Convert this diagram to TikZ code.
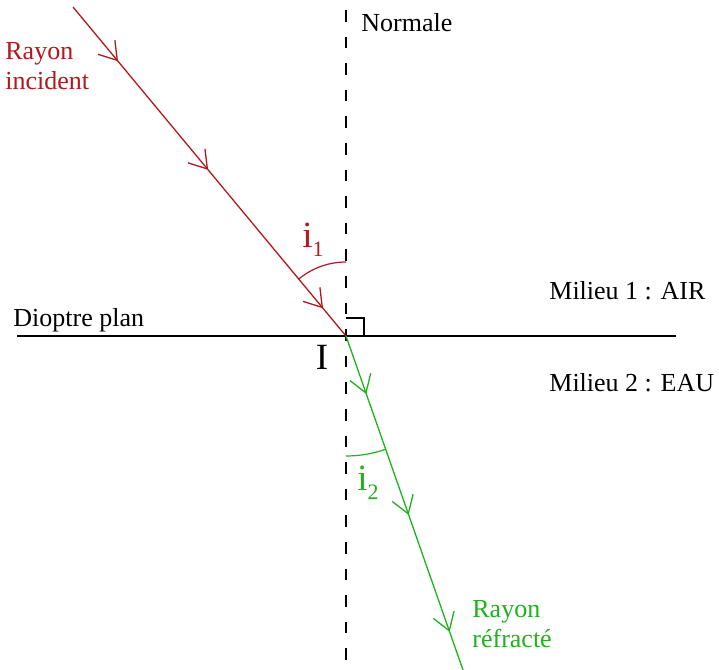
\documentclass[tikz,border=0pt]{standalone}
\usepackage{amsmath}
\usepackage{fontspec}
\setmainfont{Liberation Serif}
\usetikzlibrary{arrows.meta,decorations.markings}

\definecolor{rougeincident}{RGB}{178,24,28}
\definecolor{vertrefracte}{RGB}{30,178,30}
\newcommand{\indice}[1]{i\raisebox{-4.5pt}{\fontsize{11}{13}\selectfont #1}}

\tikzset{
  barbe/.tip={Straight Barb[length=8.5pt,width=11pt]},
  rayon/.style={line width=0.65pt},
  fleches/.style n args={3}{decoration={markings,
      mark=at position #1 with {\arrow{barbe}},
      mark=at position #2 with {\arrow{barbe}},
      mark=at position #3 with {\arrow{barbe}}},
    postaction={decorate}},
  texte/.style={font=\fontsize{13}{15}\selectfont, inner sep=0pt},
  grand/.style={font=\fontsize{18.5}{22}\selectfont, inner sep=0pt},
}

\begin{document}
\begin{tikzpicture}[x=0.5pt,y=0.5pt]
    \useasboundingbox (0,0) rectangle (719,670);
    % Points
    \coordinate (I) at (346,334);
    \coordinate (source) at (73,663);
    \coordinate (fin) at (463,0);
    \coordinate (normhaut) at (346,660);
    \coordinate (normbas) at (346,0);
    \coordinate (dioptreg) at (17,334);
    \coordinate (dioptred) at (676,334);

    % Normale et dioptre
    \draw[line width=0.9pt, dash pattern=on 5.8pt off 7.5pt] (normhaut) -- (normbas);
    \draw[line width=0.8pt] (dioptreg) -- (dioptred);
    \draw[line width=0.8pt] ([yshift=9pt]I) -| ([xshift=9pt]I);

    % Rayons
    \draw[rayon, rougeincident, fleches={0.165}{0.495}{0.916}] (source) -- (I);
    \draw[rayon, vertrefracte, fleches={0.174}{0.536}{0.886}] (I) -- (fin);

    % Angles
    \draw[rougeincident, line width=0.6pt] ([shift={(90:74)}]I) arc[start angle=90, end angle=129.8, radius=74];
    \draw[vertrefracte, line width=0.6pt] ([shift={(-90:120)}]I) arc[start angle=-90, end angle=-70.7, radius=120];

    % Textes
    \node[texte, anchor=base west] (normale) at (361,638) {Normale};
    \node[texte, rougeincident, anchor=base west, align=left] (incident) at (5,580) {Rayon\\incident};
    \node[texte, anchor=base west] (milieu1) at (549,370) {Milieu 1 : AIR};
    \node[texte, anchor=base west] (milieu2) at (549,278) {Milieu 2 : EAU};
    \node[texte, anchor=base west] (dioptre) at (13,343) {Dioptre plan};
    \node[grand, anchor=base] (pointI) at (322,300) {I};
    \node[grand, rougeincident, anchor=base west] (i1) at (302,422) {\indice{1}};
    \node[grand, vertrefracte, anchor=base west] (i2) at (357,179) {\indice{2}};
    \node[texte, vertrefracte, anchor=base west, align=left] (refracte) at (472,22) {Rayon\\réfracté};
\end{tikzpicture}
\end{document}
